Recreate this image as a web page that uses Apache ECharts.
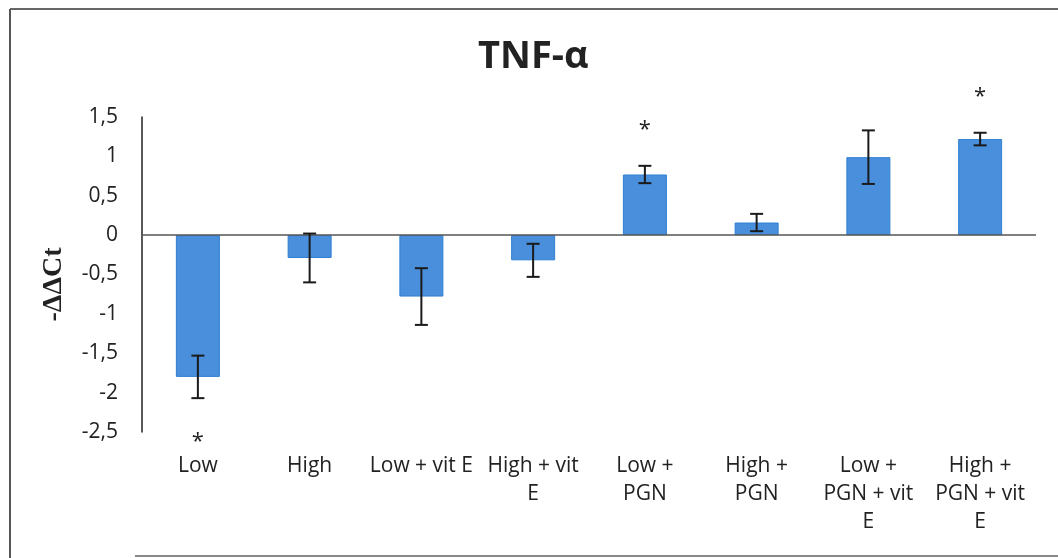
<!DOCTYPE html>
<html>
<head>
<meta charset="utf-8">
<script src="https://cdn.jsdelivr.net/npm/echarts@6/dist/echarts.min.js"></script>
<style>html,body{margin:0;padding:0;background:#fff}#c{width:1058px;height:558px}</style>
</head>
<body>
<div id="c"></div>
<script>
const categories = ['Low', 'High', 'Low + vit E', 'High + vit\nE', 'Low +\nPGN', 'High +\nPGN', 'Low +\nPGN + vit\nE', 'High +\nPGN + vit\nE'];
const values = [-1.80, -0.29, -0.78, -0.32, 0.77, 0.16, 0.99, 1.22];
const errors = [0.27, 0.31, 0.36, 0.21, 0.11, 0.11, 0.34, 0.08];
const significance = ['*', '', '', '', '*', '', '', '*'];
const yTicks = {min: -2.5, max: 1.5, interval: 0.5};

const chart = echarts.init(document.getElementById('c'), null, {renderer: 'canvas'});
const font = '"Open Sans", "Noto Sans", sans-serif';

const errData = values.map((v, i) => [i, v, errors[i], significance[i]]);

chart.setOption({
  animation: false,
  backgroundColor: '#fff',
  title: {
    text: 'TNF-α',
    left: 478, top: 38, padding: 0,
    textStyle: {fontFamily: font, fontWeight: 'bold', fontSize: 38, color: '#222'}
  },
  grid: {left: 142, right: 22, top: 117, bottom: 126, containLabel: false},
  xAxis: {
    type: 'category',
    data: categories,
    axisLine: {show: false, onZero: false},
    axisTick: {show: false},
    axisLabel: {
      interval: 0, margin: 20, fontFamily: font, fontSize: 21, color: '#222', lineHeight: 28,
      verticalAlign: 'top'
    },
    splitLine: {show: false}
  },
  yAxis: {
    type: 'value',
    min: yTicks.min, max: yTicks.max, interval: yTicks.interval,
    name: '-ΔΔCt',
    nameLocation: 'middle',
    nameGap: 74,
    nameRotate: 90,
    nameTextStyle: {fontFamily: '"Liberation Serif", "DejaVu Serif", serif', fontWeight: 'bold', fontSize: 28, color: '#222', padding: [0, 20, 0, 0]},
    axisLine: {show: true, lineStyle: {color: '#222', width: 1.5}},
    axisTick: {show: false},
    splitLine: {show: false},
    axisLabel: {
      margin: 24, fontFamily: font, fontSize: 21, color: '#222',
      formatter: v => String(v).replace('.', ',')
    }
  },
  series: [
    {
      type: 'bar',
      data: values,
      barWidth: 44,
      itemStyle: {color: '#4a8fdc', borderColor: '#2f7fd2', borderWidth: 1},
      markLine: {
        silent: true, symbol: 'none', label: {show: false},
        lineStyle: {color: '#555', width: 1.5, type: 'solid'},
        data: [{yAxis: 0}]
      },
      z: 2
    },
    {
      type: 'custom',
      data: errData,
      z: 5,
      clip: false,
      renderItem: function (params, api) {
        const i = api.value(0), v = api.value(1), e = api.value(2);
        const sig = errData[params.dataIndex][3];
        const top = api.coord([i, v + e]);
        const bot = api.coord([i, v - e]);
        const cap = 6.5;
        const st = {stroke: '#1a1a1a', lineWidth: 2};
        const children = [
          {type: 'line', shape: {x1: top[0], y1: top[1], x2: bot[0], y2: bot[1]}, style: st},
          {type: 'line', shape: {x1: top[0] - cap, y1: top[1], x2: top[0] + cap, y2: top[1]}, style: st},
          {type: 'line', shape: {x1: bot[0] - cap, y1: bot[1], x2: bot[0] + cap, y2: bot[1]}, style: st}
        ];
        if (sig) {
          const y = v >= 0 ? top[1] - 40 : bot[1] + 40;
          children.push({type: 'text', style: {text: sig, x: top[0], y: y + 4, align: 'center', verticalAlign: 'middle', fontFamily: font, fontSize: 22, fill: '#222'}});
        }
        return {type: 'group', children: children};
      }
    }
  ],
  graphic: [
    {type: 'line', shape: {x1: 10, y1: 9, x2: 1058, y2: 9}, style: {stroke: '#666', lineWidth: 2}},
    {type: 'line', shape: {x1: 10, y1: 9, x2: 10, y2: 558}, style: {stroke: '#555', lineWidth: 2}},
    {type: 'line', shape: {x1: 135, y1: 556, x2: 1058, y2: 556}, style: {stroke: '#888', lineWidth: 2}}
  ]
});
</script>
</body>
</html>
